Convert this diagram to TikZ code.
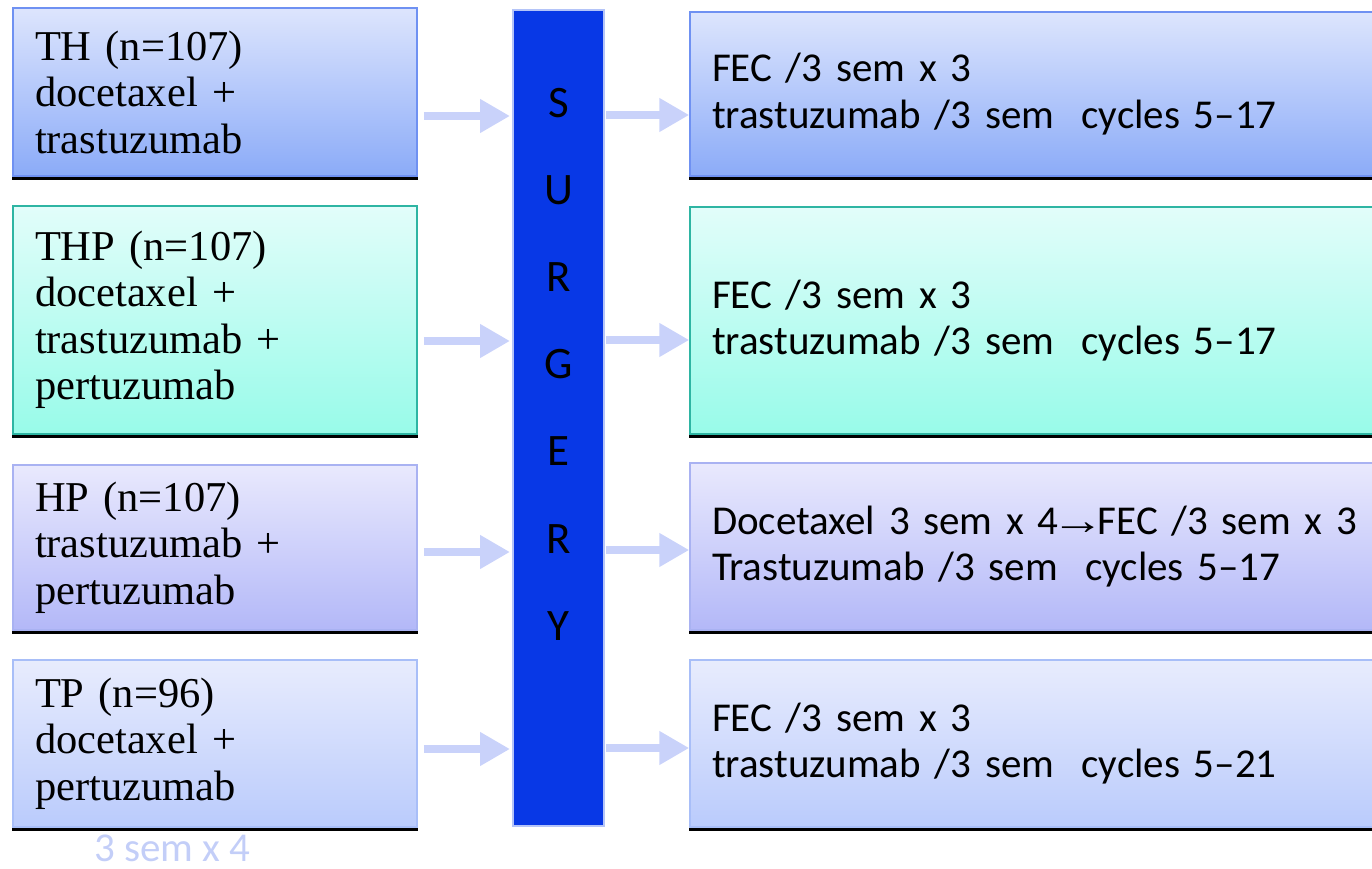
\documentclass[tikz,border=0pt]{standalone}
\usepackage{fontspec}
\setmainfont{Liberation Serif}
\newfontfamily\calibfont[Ligatures=TeX]{Carlito}
\usetikzlibrary{arrows.meta}

\definecolor{bluetop}{HTML}{DDE5FD}
\definecolor{bluebot}{HTML}{8BABF8}
\definecolor{blueedge}{HTML}{6F91F2}
\definecolor{cyantop}{HTML}{E2FDFA}
\definecolor{cyanbot}{HTML}{98FBE9}
\definecolor{cyanedge}{HTML}{2EB5A3}
\definecolor{lavtop}{HTML}{E9E9FD}
\definecolor{lavbot}{HTML}{B3B8F8}
\definecolor{lavedge}{HTML}{A9B2F2}
\definecolor{paletop}{HTML}{E8ECFD}
\definecolor{palebot}{HTML}{BACBFC}
\definecolor{paleedge}{HTML}{A8BEF8}
\definecolor{barfill}{HTML}{0838E6}
\definecolor{baredge}{HTML}{B4C4F8}
\definecolor{arrowcol}{HTML}{C9D2FA}
\definecolor{notecol}{HTML}{C3CEF8}

% thin arrow between two regimens inside a line of text
\newcommand{\thenarrow}{\kern-7pt\scalebox{1.3}[1]{\rmfamily →}\kern-7pt}

\tikzset{
  armbox/.style={draw=#1edge, line width=1.5pt, top color=#1top, bottom color=#1bot,
    minimum width=404pt, inner sep=0pt, text width=360pt, align=left,
    font=\fontsize{42.5}{46.5}\selectfont},
  followbox/.style={draw=#1edge, line width=1.5pt, top color=#1top, bottom color=#1bot,
    minimum width=700pt, inner sep=0pt, text width=656pt, align=left,
    font=\calibfont\fontsize{41}{46.5}\selectfont},
  groundline/.style={line width=3pt, black},
  flowarrow/.style={draw=arrowcol, line width=8pt,
    -{Triangle[length=30pt, width=32pt]}},
}

\begin{document}
\begin{tikzpicture}[x=1pt, y=-1pt]
  \useasboundingbox (0,0) rectangle (1372,869);
  \clip (0,0) rectangle (1372,869);

  % treatment arms before surgery
  \node[armbox=blue, minimum height=168pt] (l1) at (215,92)
    {TH (n=107)\\docetaxel +\\trastuzumab};
  \node[armbox=cyan, minimum height=228pt] (l2) at (215,320)
    {THP (n=107)\\docetaxel +\\trastuzumab +\\pertuzumab};
  \node[armbox=lav, minimum height=165pt] (l3) at (215,547.5)
    {HP (n=107)\\trastuzumab +\\pertuzumab};
  \node[armbox=pale, minimum height=167pt] (l4) at (215,743.5)
    {TP (n=96)\\docetaxel +\\pertuzumab};

  % regimens after surgery
  \node[followbox=blue, minimum height=164pt] (r1) at (1040,94)
    {FEC /3 sem x 3\\trastuzumab /3 sem\ \ cycles 5–17};
  \node[followbox=cyan, minimum height=227pt] (r2) at (1040,320.5)
    {FEC /3 sem x 3\\trastuzumab /3 sem\ \ cycles 5–17};
  \node[followbox=lav, minimum height=167pt] (r3) at (1040,546.5)
    {Docetaxel 3 sem x 4\thenarrow FEC /3 sem x 3\\Trastuzumab /3 sem\ \ cycles 5–17};
  \node[followbox=pale, minimum height=167pt] (r4) at (1040,743.5)
    {FEC /3 sem x 3\\trastuzumab /3 sem\ \ cycles 5–21};

  % dark rule under every box
  \foreach \b in {l1,l2,l3,l4,r1,r2,r3,r4}
    \draw[groundline] ([yshift=-1.5pt]\b.south west) -- ([yshift=-1.5pt]\b.south east);

  % surgery bar
  \node[draw=baredge, line width=2pt, fill=barfill, minimum width=91pt,
        minimum height=816pt, inner sep=0pt] (bar) at (558.5,418) {};
  \node[align=center, inner sep=0pt,
        font=\calibfont\fontsize{45}{87.2}\selectfont] (surg) at (558.5,364)
    {S\\U\\R\\G\\E\\R\\Y};

  % arrows into and out of surgery
  \draw[flowarrow] ([xshift=6pt]l1.east |- 0,116) -- ([xshift=-2pt]bar.west |- 0,116);
  \draw[flowarrow] ([xshift=6pt]l2.east |- 0,341) -- ([xshift=-2pt]bar.west |- 0,341);
  \draw[flowarrow] ([xshift=6pt]l3.east |- 0,552) -- ([xshift=-2pt]bar.west |- 0,552);
  \draw[flowarrow] ([xshift=6pt]l4.east |- 0,749) -- ([xshift=-2pt]bar.west |- 0,749);
  \draw[flowarrow] ([xshift=1pt]bar.east |- 0,115) -- (r1.west |- 0,115);
  \draw[flowarrow] ([xshift=1pt]bar.east |- 0,340) -- (r2.west |- 0,340);
  \draw[flowarrow] ([xshift=1pt]bar.east |- 0,550) -- (r3.west |- 0,550);
  \draw[flowarrow] ([xshift=1pt]bar.east |- 0,748) -- (r4.west |- 0,748);

  % schedule note under the last arm
  \node[anchor=base west, inner sep=0pt, text=notecol,
        font=\calibfont\fontsize{41}{46}\selectfont] (note) at (94,861) {3 sem x 4};
\end{tikzpicture}
\end{document}
